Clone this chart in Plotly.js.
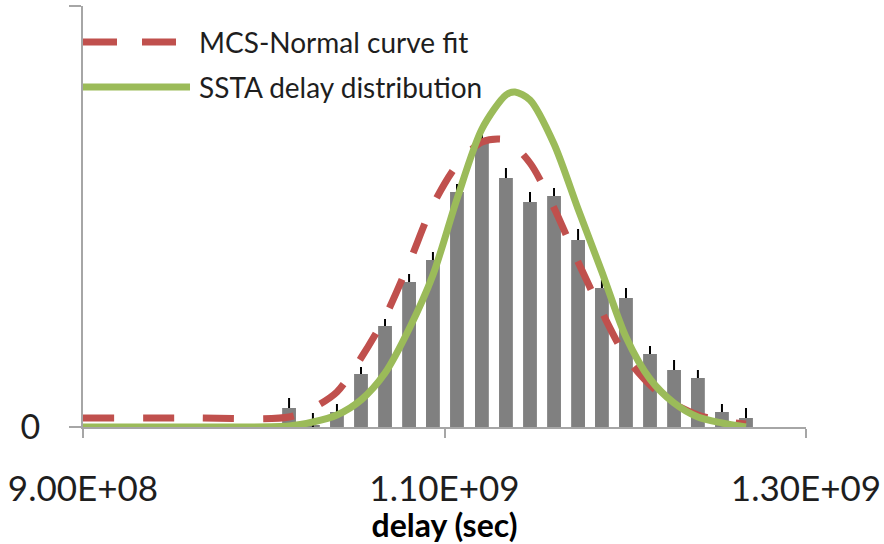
<!DOCTYPE html>
<html>
<head>
<meta charset="utf-8">
<script src="https://cdn.plot.ly/plotly-3.0.1.min.js"></script>
<style>html,body{margin:0;padding:0;background:#fff;}#chart{width:884px;height:544px;}</style>
</head>
<body>
<div id="chart"></div>
<script>
// Histogram bins (delay in sec) and frequency (arbitrary units)
const binDelay = [1.0140e9, 1.0272e9, 1.0405e9, 1.0538e9, 1.0671e9, 1.0804e9, 1.0936e9, 1.1069e9, 1.1207e9, 1.1340e9,
                  1.1473e9, 1.1606e9, 1.1739e9, 1.1871e9, 1.2004e9, 1.2137e9, 1.2270e9, 1.2402e9, 1.2535e9, 1.2668e9];
const binFreq  = [19, 2, 15, 53, 101, 145, 167, 235, 287, 249, 225, 231, 187, 139, 129, 73, 57, 49, 15, 9];
const errPlus  = [10, 12, 8, 7, 7, 8, 8, 8, 8, 10, 10, 8, 11, 8, 10, 8, 10, 8, 8, 10];
const errMinus = [0, 7, 0, 0, 0, 0, 0, 0, 0, 0, 0, 0, 0, 0, 0, 0, 0, 0, 0, 0];

// MCS-Normal curve fit
const mcsDelay = [9.00e8, 9.57e8, 1.0140e9, 1.0272e9, 1.0405e9, 1.0538e9, 1.0671e9, 1.0804e9, 1.0936e9, 1.1069e9, 1.1207e9,
                  1.1340e9, 1.1473e9, 1.1606e9, 1.1739e9, 1.1871e9, 1.2004e9, 1.2137e9, 1.2270e9, 1.2402e9, 1.2535e9, 1.2668e9];
const mcsFit   = [9, 9, 10, 19, 35, 69, 110, 164, 222, 262, 285, 287, 264, 219, 165, 115, 70, 42, 23, 12, 6, 3];

// SSTA delay distribution
const sstaDelay = [9.00e8, 9.57e8, 1.0140e9, 1.0272e9, 1.0405e9, 1.0538e9, 1.0671e9, 1.0804e9, 1.0936e9, 1.1069e9, 1.1207e9,
                   1.1340e9, 1.1390e9, 1.1473e9, 1.1606e9, 1.1739e9, 1.1871e9, 1.2004e9, 1.2137e9, 1.2270e9, 1.2402e9, 1.2535e9, 1.2668e9];
const sstaDist  = [0, 0, 1, 5, 12, 27, 54, 98, 152, 228, 298, 332, 335, 327, 283, 218, 155, 90, 48, 24, 10, 4, 0];

const xTickVals = [9.00e8, 1.10e9, 1.30e9];
const xTickText = ['9.00E+08', '1.10E+09', '1.30E+09'];
const seriesNames = ['MCS-Normal curve fit', 'SSTA delay distribution'];

const RED = '#c0504d', GREEN = '#9bbb59', AXIS = '#a6a6a6';
const FONT = 'Lato, "Open Sans", sans-serif';

const traces = [
  {type: 'bar', x: binDelay, y: binFreq, name: 'MCS histogram', showlegend: false,
   marker: {color: '#808080', line: {width: 0}},
   error_y: {type: 'data', symmetric: false, array: errPlus, arrayminus: errMinus,
             color: '#000', thickness: 2, width: 0}},
  {type: 'scatter', mode: 'lines', x: mcsDelay, y: mcsFit, name: seriesNames[0],
   line: {color: RED, width: 7, dash: '31px,29px', shape: 'spline', smoothing: 0.8}},
  {type: 'scatter', mode: 'lines', x: sstaDelay, y: sstaDist, name: seriesNames[1],
   line: {color: GREEN, width: 7, shape: 'spline', smoothing: 0.8}}
];

const layout = {
  width: 884, height: 544,
  margin: {l: 83, r: 78, t: 6, b: 117, pad: 0},
  paper_bgcolor: '#fff', plot_bgcolor: '#fff',
  showlegend: false,
  bargap: 0.42,
  font: {family: FONT, color: '#1e1e1e'},
  xaxis: {
    range: [9.00e8, 1.30e9], tickvals: xTickVals, ticktext: xTickText,
    showgrid: false, zeroline: false, showline: true, linecolor: AXIS, linewidth: 2,
    ticks: 'outside', ticklen: 9, tickwidth: 2, tickcolor: AXIS,
    tickfont: {family: FONT, size: 35, color: '#1e1e1e'}, ticklabelstandoff: 21,
    title: {text: '<b>delay (sec)</b>', font: {family: FONT, size: 32, color: '#000'}, standoff: 9},
    automargin: false
  },
  yaxis: {
    range: [0, 421], tickvals: [0, 421], ticktext: ['0', ''],
    showgrid: false, zeroline: false, showline: true, linecolor: AXIS, linewidth: 2,
    ticks: 'outside', ticklen: 12, tickwidth: 2, tickcolor: AXIS,
    tickfont: {family: FONT, size: 34, color: '#1e1e1e'}, ticklabelstandoff: 22,
    automargin: false
  },
  shapes: [
    {type: 'line', xref: 'paper', yref: 'paper', x0: 0, x1: 0.131, y0: 0.9145, y1: 0.9145,
     line: {color: RED, width: 7, dash: '34px,25px'}},
    {type: 'line', xref: 'paper', yref: 'paper', x0: 0, x1: 0.148, y0: 0.8076, y1: 0.8076,
     line: {color: GREEN, width: 7}}
  ],
  annotations: [
    {xref: 'paper', yref: 'paper', x: 0.157, y: 0.9145, xanchor: 'left', yanchor: 'middle',
     text: seriesNames[0], showarrow: false, font: {family: FONT, size: 28, color: '#1e1e1e'}},
    {xref: 'paper', yref: 'paper', x: 0.157, y: 0.8076, xanchor: 'left', yanchor: 'middle',
     text: seriesNames[1], showarrow: false, font: {family: FONT, size: 28, color: '#1e1e1e'}}
  ]
};

Plotly.newPlot('chart', traces, layout, {staticPlot: true, displayModeBar: false});
</script>
</body>
</html>
